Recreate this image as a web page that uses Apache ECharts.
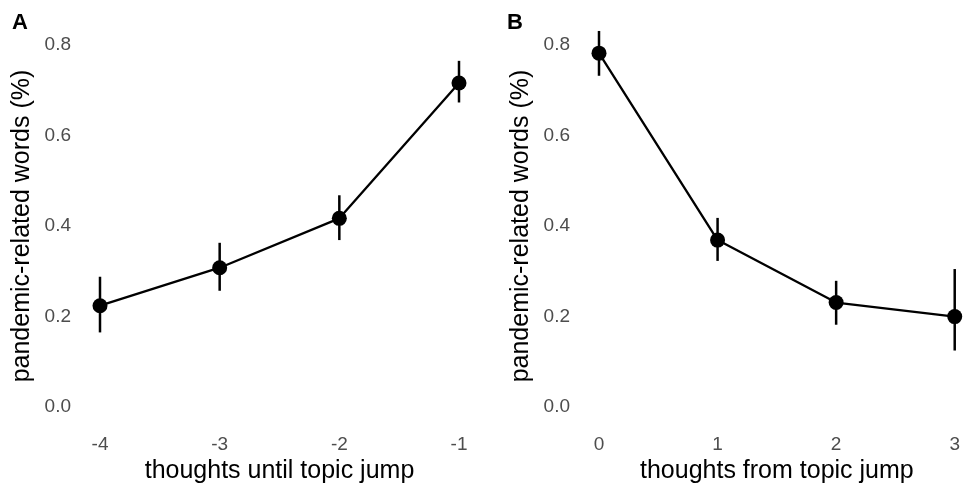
<!DOCTYPE html>
<html>
<head>
<meta charset="utf-8">
<script src="https://cdn.jsdelivr.net/npm/echarts@6/dist/echarts.min.js"></script>
<style>
html,body{margin:0;padding:0;background:#fff;}
#main{width:963px;height:489px;}
</style>
</head>
<body>
<div id="main"></div>
<script>
// Panel A: thoughts until topic jump
var xA = [-4, -3, -2, -1];
var meanA = [0.224, 0.308, 0.417, 0.716];
var lowA = [0.165, 0.257, 0.369, 0.673];
var highA = [0.288, 0.363, 0.468, 0.765];
// Panel B: thoughts from topic jump
var xB = [0, 1, 2, 3];
var meanB = [0.782, 0.369, 0.231, 0.200];
var lowB = [0.732, 0.323, 0.182, 0.125];
var highB = [0.831, 0.418, 0.279, 0.305];
var yTicks = [0, 0.2, 0.4, 0.6, 0.8];
var yTitle = 'pandemic-related words (%)';
var xTitleA = 'thoughts until topic jump';
var xTitleB = 'thoughts from topic jump';
var panelLabels = ['A', 'B'];

var FONT = '"Liberation Sans", Arial, sans-serif';
var chart = echarts.init(document.getElementById('main'), null, {renderer: 'canvas'});

function pairs(xs, ys) { return xs.map(function (x, i) { return [x, ys[i]]; }); }
function errData(xs, lo, hi) { return xs.map(function (x, i) { return [x, lo[i], hi[i]]; }); }

function yAxisCfg(gi) {
  return {
    type: 'value', gridIndex: gi, min: yTicks[0], max: yTicks[yTicks.length - 1], interval: 0.2,
    axisLine: {show: false}, axisTick: {show: false}, splitLine: {show: false},
    axisLabel: {color: '#4d4d4d', fontSize: 19, fontFamily: FONT, margin: 29,
      formatter: function (v) { return v.toFixed(1); }},
    name: yTitle, nameLocation: 'middle', nameGap: 65,
    nameTextStyle: {color: '#000', fontSize: 25, fontFamily: FONT}
  };
}
function xAxisCfg(gi, xs, title) {
  return {
    type: 'value', gridIndex: gi, min: xs[0], max: xs[xs.length - 1], interval: 1,
    axisLine: {show: false}, axisTick: {show: false}, splitLine: {show: false},
    axisLabel: {color: '#4d4d4d', fontSize: 19, fontFamily: FONT, margin: 28},
    name: title, nameLocation: 'middle', nameGap: 48,
    nameTextStyle: {color: '#000', fontSize: 25, fontFamily: FONT}
  };
}
function errSeries(gi, data) {
  return {
    type: 'custom', xAxisIndex: gi, yAxisIndex: gi, clip: false, z: 1,
    data: data,
    renderItem: function (params, api) {
      var p1 = api.coord([api.value(0), api.value(1)]);
      var p2 = api.coord([api.value(0), api.value(2)]);
      return {type: 'line', shape: {x1: p1[0], y1: p1[1], x2: p2[0], y2: p2[1]},
        style: {stroke: '#000', lineWidth: 2.5}};
    }
  };
}
function lineSeries(gi, data) {
  return {
    type: 'line', xAxisIndex: gi, yAxisIndex: gi, clip: false, z: 2,
    data: data, symbol: 'circle', symbolSize: 15,
    lineStyle: {color: '#000', width: 2.3}, itemStyle: {color: '#000'},
    animation: false
  };
}

chart.setOption({
  animation: false,
  backgroundColor: '#fff',
  grid: [
    {left: 100, width: 359, top: 45, bottom: 80},
    {left: 599, width: 359, top: 45, bottom: 80}
  ],
  xAxis: [xAxisCfg(0, xA, xTitleA), xAxisCfg(1, xB, xTitleB)],
  yAxis: [yAxisCfg(0), yAxisCfg(1)],
  graphic: [
    {type: 'text', left: 12, top: 12, style: {text: panelLabels[0], fontSize: 22, fontWeight: 'bold', fontFamily: FONT, fill: '#000'}},
    {type: 'text', left: 507, top: 12, style: {text: panelLabels[1], fontSize: 22, fontWeight: 'bold', fontFamily: FONT, fill: '#000'}}
  ],
  series: [
    errSeries(0, errData(xA, lowA, highA)),
    lineSeries(0, pairs(xA, meanA)),
    errSeries(1, errData(xB, lowB, highB)),
    lineSeries(1, pairs(xB, meanB))
  ]
});
</script>
</body>
</html>
